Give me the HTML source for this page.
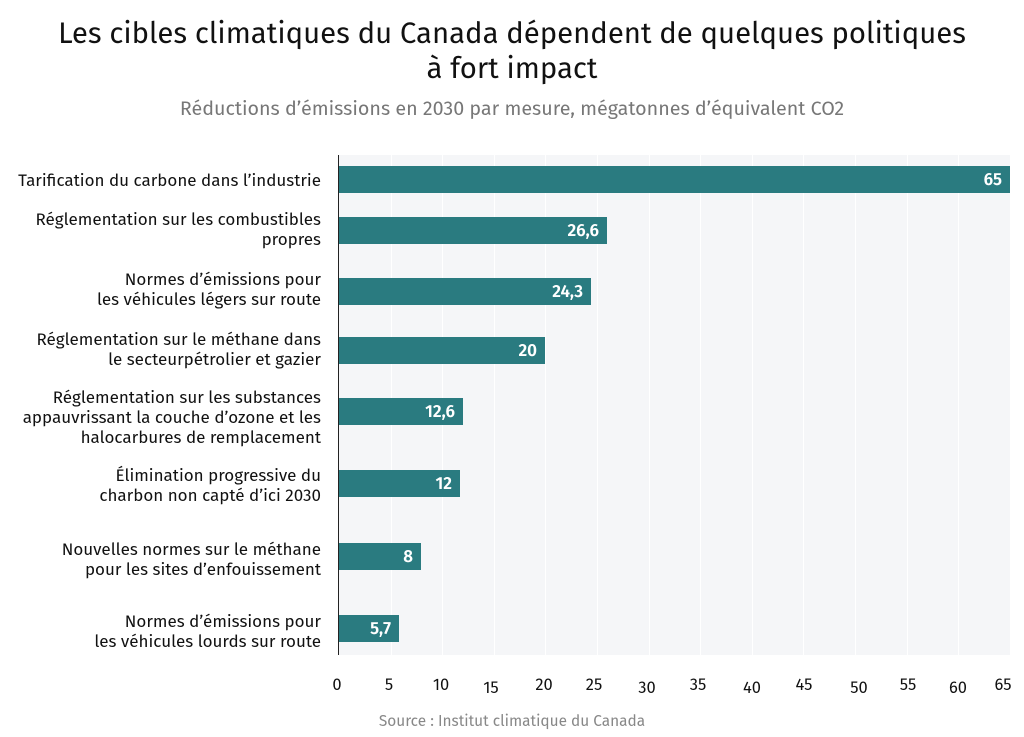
<!DOCTYPE html>
<html><head><meta charset="utf-8"><style>
body{margin:0;width:1024px;height:737px;background:#fff;font-family:"Fira Sans","Liberation Sans",sans-serif;position:relative;overflow:hidden}
.t{position:absolute;left:0;width:1024px;text-align:center}
.bar{position:absolute;left:339px;height:27px;background:#2a7b80;color:#fff;font-size:17px;font-weight:600;text-align:right;box-sizing:border-box;padding-right:8px;line-height:27px}
.lab{position:absolute;right:703px;text-align:right;font-size:17px;line-height:20px;color:#111;white-space:nowrap}
.tk{position:absolute;font-size:16.5px;color:#111;width:40px;text-align:center;top:676px}
.g{position:absolute;top:155px;height:500px;width:1px;background:#fff}
</style></head><body>
<div class="t" style="top:16px;font-size:29.3px;line-height:35px;color:#111">Les cibles climatiques du Canada dépendent de quelques politiques<br>à fort impact</div>
<div class="t" style="top:98px;font-size:19.7px;color:#777">Réductions d’émissions en 2030 par mesure, mégatonnes d’équivalent CO2</div>
<div style="position:absolute;left:339px;top:155px;width:671px;height:500px;background:#f5f6f8"></div>
<div class="g" style="left:391px"></div><div class="g" style="left:442px"></div><div class="g" style="left:494px"></div><div class="g" style="left:545px"></div><div class="g" style="left:597px"></div><div class="g" style="left:649px"></div><div class="g" style="left:700px"></div><div class="g" style="left:752px"></div><div class="g" style="left:803px"></div><div class="g" style="left:855px"></div><div class="g" style="left:907px"></div><div class="g" style="left:958px"></div>
<div style="position:absolute;left:338px;top:155px;width:1px;height:500px;background:#222"></div>
<div class="bar" style="top:166px;width:671px">65</div>
<div class="bar" style="top:217px;width:268px">26,6</div>
<div class="bar" style="top:278px;width:252px">24,3</div>
<div class="bar" style="top:337px;width:206px">20</div>
<div class="bar" style="top:398px;width:124px">12,6</div>
<div class="bar" style="top:470px;width:121px">12</div>
<div class="bar" style="top:543px;width:82px">8</div>
<div class="bar" style="top:615px;width:60px">5,7</div>
<div class="lab" style="top:171px">Tarification du carbone dans l’industrie</div>
<div class="lab" style="top:210px">Réglementation sur les combustibles<br>propres</div>
<div class="lab" style="top:270px">Normes d’émissions pour<br>les véhicules légers sur route</div>
<div class="lab" style="top:330px">Réglementation sur le méthane dans<br>le secteurpétrolier et gazier</div>
<div class="lab" style="top:388px">Réglementation sur les substances<br>appauvrissant la couche d’ozone et les<br>halocarbures de remplacement</div>
<div class="lab" style="top:466px">Élimination progressive du<br>charbon non capté d’ici 2030</div>
<div class="lab" style="top:540px">Nouvelles normes sur le méthane<br>pour les sites d’enfouissement</div>
<div class="lab" style="top:612px">Normes d’émissions pour<br>les véhicules lourds sur route</div>
<div class="tk" style="left:317px">0</div><div class="tk" style="left:369px">5</div><div class="tk" style="left:421px">10</div><div class="tk" style="left:471px;top:679px">15</div><div class="tk" style="left:524px">20</div><div class="tk" style="left:574px">25</div><div class="tk" style="left:627px;top:679px">30</div><div class="tk" style="left:678px">35</div><div class="tk" style="left:732px;top:679px">40</div><div class="tk" style="left:784px">45</div><div class="tk" style="left:839px;top:679px">50</div><div class="tk" style="left:888px">55</div><div class="tk" style="left:938px;top:679px">60</div><div class="tk" style="left:983px">65</div>
<div class="t" style="top:713px;font-size:15.4px;color:#888">Source : Institut climatique du Canada</div>
</body></html>
